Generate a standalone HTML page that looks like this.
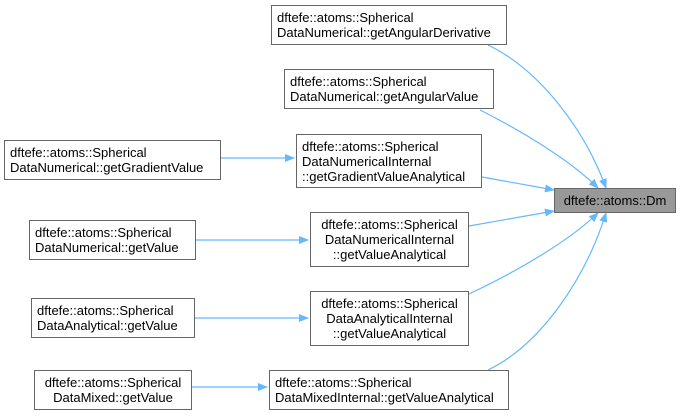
<!DOCTYPE html>
<html><head><meta charset="utf-8"><style>
body{margin:0;background:#fff;width:683px;height:416px;overflow:hidden;position:relative;font-family:"Liberation Sans",Arial,sans-serif;font-size:13px;color:#000}
.n{position:absolute;box-sizing:border-box;border:1px solid #666;background:#fff;line-height:15px;padding:0 5px;display:flex;flex-direction:column;justify-content:center;white-space:nowrap}
.c{text-align:center}
</style></head><body>
<svg width="683" height="416" style="position:absolute;left:0;top:0">
<defs><marker id="a" markerWidth="10" markerHeight="10" refX="9" refY="5" orient="auto" markerUnits="userSpaceOnUse"><path d="M0,1 L10,5 L0,9 z" fill="#63b8ff"/></marker></defs>
<g stroke="#63b8ff" stroke-width="1.2" fill="none" marker-end="url(#a)">
<path d="M488,45 C540,70 585,130 606,188"/>
<path d="M480,110 C520,130 570,160 598,188"/>
<path d="M482,177 L554,190"/>
<path d="M469,226 L554,211"/>
<path d="M469,294 C520,270 570,240 598,213"/>
<path d="M488,370 C540,345 585,280 606,213"/>
<path d="M221,158 L294,158"/>
<path d="M196,240 L308,240"/>
<path d="M195,318 L308,318"/>
<path d="M192,387 L267,387"/>
</g></svg>
<div class="n" style="left:271px;top:5px;width:236px;height:40px">dftefe::atoms::Spherical<br>DataNumerical::getAngularDerivative</div>
<div class="n" style="left:284px;top:69px;width:210px;height:40px">dftefe::atoms::Spherical<br>DataNumerical::getAngularValue</div>
<div class="n" style="left:296px;top:134px;width:186px;height:54px">dftefe::atoms::Spherical<br>DataNumericalInternal<br>::getGradientValueAnalytical</div>
<div class="n" style="left:4px;top:140px;width:217px;height:40px">dftefe::atoms::Spherical<br>DataNumerical::getGradientValue</div>
<div class="n c" style="left:554px;top:188px;width:122px;height:25px;background:#999">dftefe::atoms::Dm</div>
<div class="n c" style="left:310px;top:212px;width:159px;height:55px">dftefe::atoms::Spherical<br>DataNumericalInternal<br>::getValueAnalytical</div>
<div class="n" style="left:29px;top:220px;width:167px;height:40px">dftefe::atoms::Spherical<br>DataNumerical::getValue</div>
<div class="n c" style="left:310px;top:291px;width:159px;height:55px">dftefe::atoms::Spherical<br>DataAnalyticalInternal<br>::getValueAnalytical</div>
<div class="n" style="left:31px;top:298px;width:164px;height:40px">dftefe::atoms::Spherical<br>DataAnalytical::getValue</div>
<div class="n c" style="left:34px;top:370px;width:158px;height:40px">dftefe::atoms::Spherical<br>DataMixed::getValue</div>
<div class="n" style="left:269px;top:370px;width:240px;height:40px">dftefe::atoms::Spherical<br>DataMixedInternal::getValueAnalytical</div>
</body></html>
